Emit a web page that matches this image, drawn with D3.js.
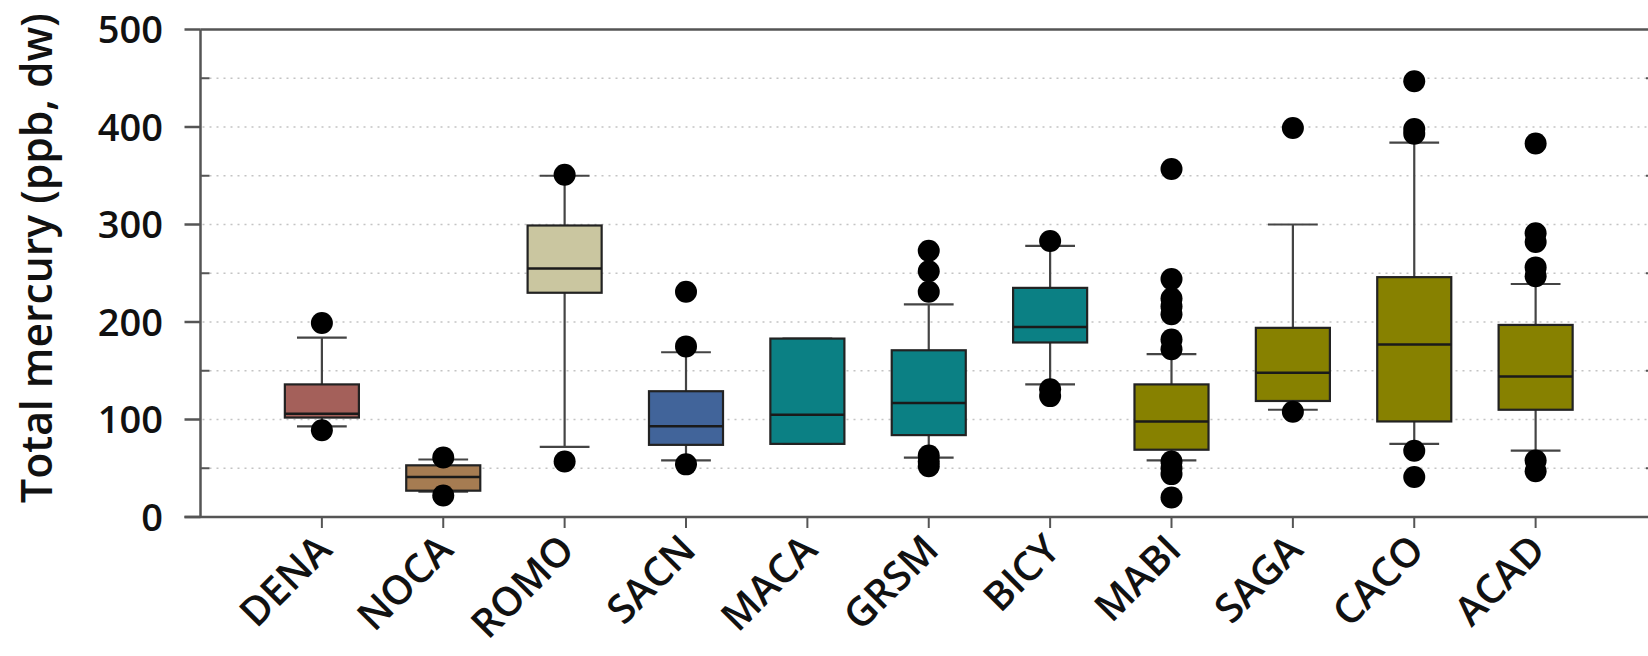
<!DOCTYPE html>
<html><head><meta charset="utf-8">
<script src="https://cdn.jsdelivr.net/npm/d3@7"></script>
<style>
body{margin:0;background:#fff}
svg{display:block}
text{font-family:"Open Sans",sans-serif;fill:#111;font-weight:600}
</style>
</head><body>
<svg id="c" width="1648" height="656"></svg>
<script>
// ---- data ----
const categories = ["DENA","NOCA","ROMO","SACN","MACA","GRSM","BICY","MABI","SAGA","CACO","ACAD"];
const whiskerLow  = [93, 26, 72, 58, 75, 61, 136, 58, 110, 75, 68];
const q1          = [102, 27, 230, 74, 75, 84, 179, 69, 119, 98, 110];
const medians     = [106, 41, 255, 93, 105, 117, 195, 98, 148, 177, 144];
const q3          = [136, 53, 299, 129, 183, 171, 235, 136, 194, 246, 197];
const whiskerHigh = [184, 59, 350, 169, 183, 218, 278, 167, 300, 384, 239];
const outliers = [
  [199, 89],
  [61, 22],
  [351, 57],
  [231, 175, 54],
  [],
  [273, 252, 231, 63, 57, 52],
  [283, 131, 124],
  [357, 244, 224, 216, 208, 182, 172, 57, 50, 44, 20],
  [399, 108],
  [447, 398, 393, 68, 41],
  [383, 291, 282, 256, 247, 58, 47]
];
const yTicks = [0, 100, 200, 300, 400, 500];
const yMinor = [50, 150, 250, 350, 450];
const yLabel = "Total mercury (ppb, dw)";
const palette = ["#a4605a","#a67c52","#cac6a0","#41649a","#0b8084","#0b8084","#0b8084","#878100","#878100","#878100","#878100"];

// ---- layout ----
const svg = d3.select("#c");
const x = d3.scaleLinear().domain([0, 12]).range([200.5, 1657]);
const y = d3.scaleLinear().domain([0, 500]).range([517, 29.5]);
const step = x(1) - x(0);
const boxW = step * 0.61, capW = step * 0.41;

// gridlines
svg.append("g").selectAll("line").data(yMinor.concat(yTicks.filter(d => d > 0 && d < 500)))
  .join("line")
  .attr("x1", x(0) + 2).attr("x2", x(12))
  .attr("y1", d => y(d)).attr("y2", d => y(d))
  .attr("stroke", "#c4c4c4").attr("stroke-width", 1.6)
  .attr("stroke-dasharray", "2,5");

// boxes
const g = svg.append("g");
categories.forEach((c, i) => {
  const cx = x(i + 1);
  g.append("line").attr("x1", cx).attr("x2", cx).attr("y1", y(q3[i])).attr("y2", y(whiskerHigh[i]))
    .attr("stroke", "#444").attr("stroke-width", 2.2);
  g.append("line").attr("x1", cx).attr("x2", cx).attr("y1", y(q1[i])).attr("y2", y(whiskerLow[i]))
    .attr("stroke", "#444").attr("stroke-width", 2.2);
  [whiskerHigh[i], whiskerLow[i]].forEach(v => {
    g.append("line").attr("x1", cx - capW / 2).attr("x2", cx + capW / 2)
      .attr("y1", y(v)).attr("y2", y(v)).attr("stroke", "#444").attr("stroke-width", 2.2);
  });
  g.append("rect").attr("x", cx - boxW / 2).attr("width", boxW)
    .attr("y", y(q3[i])).attr("height", y(q1[i]) - y(q3[i]))
    .attr("fill", palette[i]).attr("stroke", "#222").attr("stroke-width", 2.2);
  g.append("line").attr("x1", cx - boxW / 2).attr("x2", cx + boxW / 2)
    .attr("y1", y(medians[i])).attr("y2", y(medians[i]))
    .attr("stroke", "#1a1a1a").attr("stroke-width", 2.5);
  g.selectAll(null).data(outliers[i]).join("circle")
    .attr("cx", cx).attr("cy", d => y(d)).attr("r", 11).attr("fill", "#000");
});

// axes
const axisColor = "#555";
svg.append("line").attr("x1", x(0)).attr("x2", x(12)).attr("y1", y(500)).attr("y2", y(500))
  .attr("stroke", axisColor).attr("stroke-width", 2.5);
svg.append("line").attr("x1", x(0) - 16).attr("x2", x(12)).attr("y1", y(0)).attr("y2", y(0))
  .attr("stroke", axisColor).attr("stroke-width", 2.5);
svg.append("line").attr("x1", x(0)).attr("x2", x(0)).attr("y1", y(0)).attr("y2", y(500))
  .attr("stroke", axisColor).attr("stroke-width", 2.5);
svg.append("line").attr("x1", x(12)).attr("x2", x(12)).attr("y1", y(0)).attr("y2", y(500))
  .attr("stroke", axisColor).attr("stroke-width", 2.5);

// y major ticks (outward) and labels
svg.append("g").selectAll("line").data(yTicks).join("line")
  .attr("x1", x(0) - 16).attr("x2", x(0)).attr("y1", d => y(d)).attr("y2", d => y(d))
  .attr("stroke", axisColor).attr("stroke-width", 2.5);
svg.append("g").selectAll("text").data(yTicks).join("text")
  .attr("x", 163).attr("y", d => y(d)).attr("dy", "0.36em")
  .attr("text-anchor", "end").attr("font-size", 38).text(d => d);
svg.append("g").selectAll("line").data(yMinor).join("line")
  .attr("x1", x(0)).attr("x2", x(0) + 9).attr("y1", d => y(d)).attr("y2", d => y(d))
  .attr("stroke", axisColor).attr("stroke-width", 2);
svg.append("g").selectAll("line").data(yMinor).join("line")
  .attr("x1", x(12) - 11).attr("x2", x(12)).attr("y1", d => y(d)).attr("y2", d => y(d))
  .attr("stroke", axisColor).attr("stroke-width", 2);

// x ticks and labels
svg.append("g").selectAll("line").data(categories).join("line")
  .attr("x1", (d, i) => x(i + 1)).attr("x2", (d, i) => x(i + 1))
  .attr("y1", y(0)).attr("y2", y(0) + 11)
  .attr("stroke", axisColor).attr("stroke-width", 2);
svg.append("g").selectAll("text").data(categories).join("text")
  .attr("transform", (d, i) => `translate(${x(i + 1) + 12},${552}) rotate(-45)`)
  .attr("text-anchor", "end").attr("font-size", 40).text(d => d);

// y label
const yl = svg.append("text")
  .attr("transform", "translate(52,258) rotate(-90)")
  .attr("text-anchor", "middle").attr("font-size", 40).text(yLabel);
const len = yl.node().getComputedTextLength();
yl.attr("font-size", 40 * 490 / len);
</script>
</body></html>
